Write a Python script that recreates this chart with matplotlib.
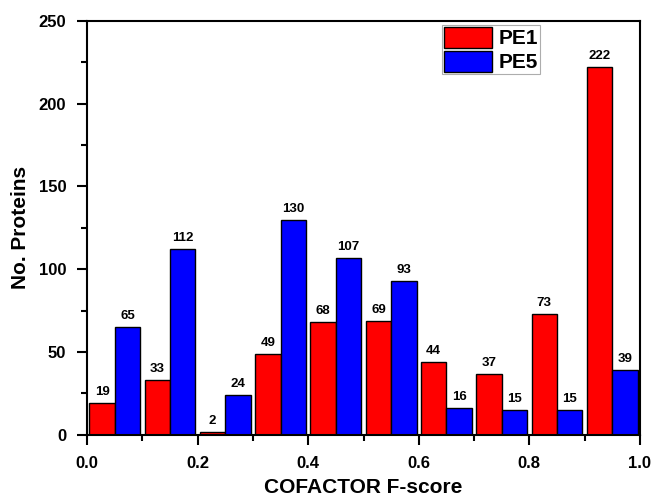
import matplotlib
matplotlib.use("Agg")
import matplotlib.pyplot as plt
import numpy as np
from matplotlib.ticker import MultipleLocator

plt.rcParams['font.family'] = ['Liberation Sans', 'DejaVu Sans']
plt.rcParams['font.weight'] = 'bold'

bin_left = [0.0, 0.1, 0.2, 0.3, 0.4, 0.5, 0.6, 0.7, 0.8, 0.9]
pe1 = [19, 33, 2, 49, 68, 69, 44, 37, 73, 222]
pe5 = [65, 112, 24, 130, 107, 93, 16, 15, 15, 39]

fig = plt.figure(figsize=(6.55, 4.97), dpi=100)
ax = fig.add_axes([0.133, 0.125, 0.844, 0.833])

x = np.array(bin_left) + 0.05
w = 0.046
b1 = ax.bar(x - w/2, pe1, width=w, color='#ff0000', edgecolor='black', linewidth=1.0, label='PE1')
b2 = ax.bar(x + w/2, pe5, width=w, color='#0000ff', edgecolor='black', linewidth=1.0, label='PE5')
for bars in (b1, b2):
    for r in bars:
        h = r.get_height()
        ax.text(r.get_x() + r.get_width()/2, h + 3, f"{int(h)}",
                ha='center', va='bottom', fontsize=9.5, fontweight='bold')

ax.set_xlim(0, 1.0)
ax.set_ylim(0, 250)
ax.xaxis.set_major_locator(MultipleLocator(0.2))
ax.xaxis.set_minor_locator(MultipleLocator(0.1))
ax.yaxis.set_major_locator(MultipleLocator(50))
ax.yaxis.set_minor_locator(MultipleLocator(25))
ax.tick_params(which='major', direction='out', length=7, width=1.5, labelsize=12, pad=8)
ax.tick_params(which='minor', direction='out', length=4, width=1.5)
for lab in ax.get_xticklabels() + ax.get_yticklabels():
    lab.set_fontweight('bold')
for s in ax.spines.values():
    s.set_linewidth(1.5)

ax.set_xlabel('COFACTOR F-score', fontsize=15, fontweight='bold', labelpad=5)
ax.set_ylabel('No. Proteins', fontsize=15, fontweight='bold', labelpad=6)

leg = ax.legend(loc='upper left', bbox_to_anchor=(0.642, 0.99), fontsize=15,
                handlelength=2.3, handleheight=1.15, handletextpad=0.3,
                borderpad=0.1, labelspacing=0.12, fancybox=False,
                edgecolor='#999999', borderaxespad=0)
leg.get_frame().set_linewidth(0.8)

fig.savefig('out.png', dpi=100)
